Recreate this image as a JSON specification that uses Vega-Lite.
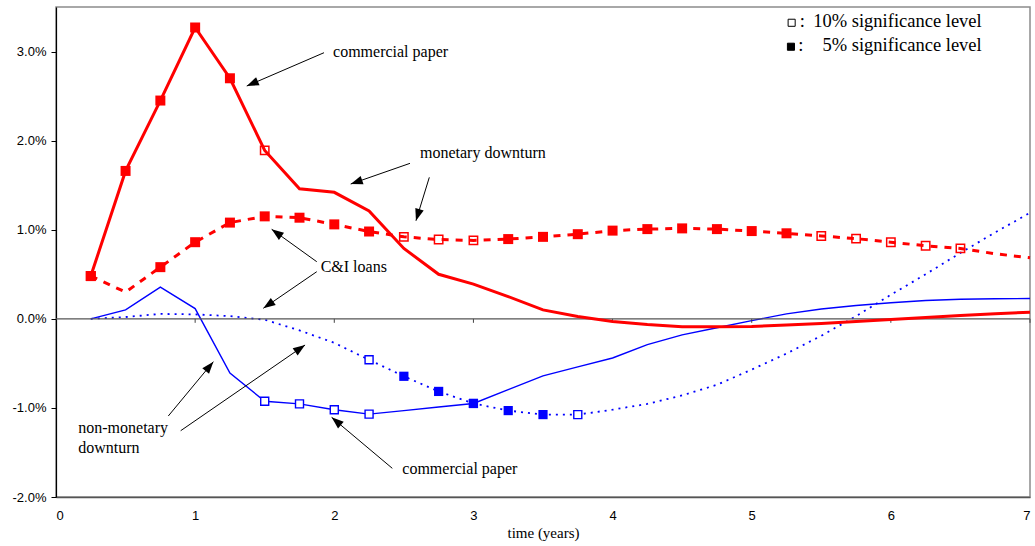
{
  "$schema": "https://vega.github.io/schema/vega-lite/v6.json",
  "width": 974,
  "height": 490,
  "autosize": "none",
  "padding": {"left": 56, "top": 7, "right": 5, "bottom": 49},
  "background": "white",
  "config": {
    "view": {"stroke": "#8c8c8c", "strokeWidth": 1.5},
    "font": "Liberation Sans"
  },
  "datasets": {
    "irf": [
      {"s": "cp_m", "x": 0.25, "y": 0.48, "sig": "5"},
      {"s": "cp_m", "x": 0.5, "y": 1.66, "sig": "5"},
      {"s": "cp_m", "x": 0.75, "y": 2.45, "sig": "5"},
      {"s": "cp_m", "x": 1.0, "y": 3.27, "sig": "5"},
      {"s": "cp_m", "x": 1.25, "y": 2.70, "sig": "5"},
      {"s": "cp_m", "x": 1.5, "y": 1.89, "sig": "10"},
      {"s": "cp_m", "x": 1.75, "y": 1.46, "sig": ""},
      {"s": "cp_m", "x": 2.0, "y": 1.42, "sig": ""},
      {"s": "cp_m", "x": 2.25, "y": 1.21, "sig": ""},
      {"s": "cp_m", "x": 2.5, "y": 0.79, "sig": ""},
      {"s": "cp_m", "x": 2.75, "y": 0.50, "sig": ""},
      {"s": "cp_m", "x": 3.0, "y": 0.39, "sig": ""},
      {"s": "cp_m", "x": 3.25, "y": 0.25, "sig": ""},
      {"s": "cp_m", "x": 3.5, "y": 0.10, "sig": ""},
      {"s": "cp_m", "x": 3.75, "y": 0.025, "sig": ""},
      {"s": "cp_m", "x": 4.0, "y": -0.03, "sig": ""},
      {"s": "cp_m", "x": 4.25, "y": -0.065, "sig": ""},
      {"s": "cp_m", "x": 4.5, "y": -0.088, "sig": ""},
      {"s": "cp_m", "x": 4.75, "y": -0.09, "sig": ""},
      {"s": "cp_m", "x": 5.0, "y": -0.085, "sig": ""},
      {"s": "cp_m", "x": 5.25, "y": -0.07, "sig": ""},
      {"s": "cp_m", "x": 5.5, "y": -0.052, "sig": ""},
      {"s": "cp_m", "x": 5.75, "y": -0.03, "sig": ""},
      {"s": "cp_m", "x": 6.0, "y": -0.008, "sig": ""},
      {"s": "cp_m", "x": 6.25, "y": 0.015, "sig": ""},
      {"s": "cp_m", "x": 6.5, "y": 0.037, "sig": ""},
      {"s": "cp_m", "x": 6.75, "y": 0.056, "sig": ""},
      {"s": "cp_m", "x": 7.0, "y": 0.075, "sig": ""},

      {"s": "ci_m", "x": 0.25, "y": 0.48, "sig": "5"},
      {"s": "ci_m", "x": 0.5, "y": 0.30, "sig": ""},
      {"s": "ci_m", "x": 0.75, "y": 0.58, "sig": "5"},
      {"s": "ci_m", "x": 1.0, "y": 0.86, "sig": "5"},
      {"s": "ci_m", "x": 1.25, "y": 1.08, "sig": "5"},
      {"s": "ci_m", "x": 1.5, "y": 1.15, "sig": "5"},
      {"s": "ci_m", "x": 1.75, "y": 1.135, "sig": "5"},
      {"s": "ci_m", "x": 2.0, "y": 1.06, "sig": "5"},
      {"s": "ci_m", "x": 2.25, "y": 0.98, "sig": "5"},
      {"s": "ci_m", "x": 2.5, "y": 0.92, "sig": "10"},
      {"s": "ci_m", "x": 2.75, "y": 0.89, "sig": "10"},
      {"s": "ci_m", "x": 3.0, "y": 0.88, "sig": "10"},
      {"s": "ci_m", "x": 3.25, "y": 0.895, "sig": "5"},
      {"s": "ci_m", "x": 3.5, "y": 0.92, "sig": "5"},
      {"s": "ci_m", "x": 3.75, "y": 0.95, "sig": "5"},
      {"s": "ci_m", "x": 4.0, "y": 0.99, "sig": "5"},
      {"s": "ci_m", "x": 4.25, "y": 1.007, "sig": "5"},
      {"s": "ci_m", "x": 4.5, "y": 1.015, "sig": "5"},
      {"s": "ci_m", "x": 4.75, "y": 1.007, "sig": "5"},
      {"s": "ci_m", "x": 5.0, "y": 0.985, "sig": "5"},
      {"s": "ci_m", "x": 5.25, "y": 0.96, "sig": "5"},
      {"s": "ci_m", "x": 5.5, "y": 0.93, "sig": "10"},
      {"s": "ci_m", "x": 5.75, "y": 0.90, "sig": "10"},
      {"s": "ci_m", "x": 6.0, "y": 0.86, "sig": "10"},
      {"s": "ci_m", "x": 6.25, "y": 0.82, "sig": "10"},
      {"s": "ci_m", "x": 6.5, "y": 0.79, "sig": "10"},
      {"s": "ci_m", "x": 6.75, "y": 0.73, "sig": ""},
      {"s": "ci_m", "x": 7.0, "y": 0.685, "sig": ""},

      {"s": "cp_n", "x": 0.25, "y": 0.0, "sig": ""},
      {"s": "cp_n", "x": 0.5, "y": 0.10, "sig": ""},
      {"s": "cp_n", "x": 0.75, "y": 0.355, "sig": ""},
      {"s": "cp_n", "x": 1.0, "y": 0.115, "sig": ""},
      {"s": "cp_n", "x": 1.25, "y": -0.61, "sig": ""},
      {"s": "cp_n", "x": 1.5, "y": -0.925, "sig": "10"},
      {"s": "cp_n", "x": 1.75, "y": -0.955, "sig": "10"},
      {"s": "cp_n", "x": 2.0, "y": -1.02, "sig": "10"},
      {"s": "cp_n", "x": 2.25, "y": -1.07, "sig": "10"},
      {"s": "cp_n", "x": 2.5, "y": -1.03, "sig": ""},
      {"s": "cp_n", "x": 2.75, "y": -0.99, "sig": ""},
      {"s": "cp_n", "x": 3.0, "y": -0.95, "sig": "5"},
      {"s": "cp_n", "x": 3.25, "y": -0.795, "sig": ""},
      {"s": "cp_n", "x": 3.5, "y": -0.64, "sig": ""},
      {"s": "cp_n", "x": 3.75, "y": -0.54, "sig": ""},
      {"s": "cp_n", "x": 4.0, "y": -0.44, "sig": ""},
      {"s": "cp_n", "x": 4.25, "y": -0.29, "sig": ""},
      {"s": "cp_n", "x": 4.5, "y": -0.18, "sig": ""},
      {"s": "cp_n", "x": 4.75, "y": -0.10, "sig": ""},
      {"s": "cp_n", "x": 5.0, "y": -0.02, "sig": ""},
      {"s": "cp_n", "x": 5.25, "y": 0.055, "sig": ""},
      {"s": "cp_n", "x": 5.5, "y": 0.11, "sig": ""},
      {"s": "cp_n", "x": 5.75, "y": 0.15, "sig": ""},
      {"s": "cp_n", "x": 6.0, "y": 0.18, "sig": ""},
      {"s": "cp_n", "x": 6.25, "y": 0.205, "sig": ""},
      {"s": "cp_n", "x": 6.5, "y": 0.22, "sig": ""},
      {"s": "cp_n", "x": 6.75, "y": 0.225, "sig": ""},
      {"s": "cp_n", "x": 7.0, "y": 0.228, "sig": ""},

      {"s": "ci_n", "x": 0.25, "y": 0.0, "sig": ""},
      {"s": "ci_n", "x": 0.5, "y": 0.02, "sig": ""},
      {"s": "ci_n", "x": 0.75, "y": 0.055, "sig": ""},
      {"s": "ci_n", "x": 1.0, "y": 0.05, "sig": ""},
      {"s": "ci_n", "x": 1.25, "y": 0.03, "sig": ""},
      {"s": "ci_n", "x": 1.5, "y": -0.01, "sig": ""},
      {"s": "ci_n", "x": 1.75, "y": -0.13, "sig": ""},
      {"s": "ci_n", "x": 2.0, "y": -0.27, "sig": ""},
      {"s": "ci_n", "x": 2.25, "y": -0.46, "sig": "10"},
      {"s": "ci_n", "x": 2.5, "y": -0.645, "sig": "5"},
      {"s": "ci_n", "x": 2.75, "y": -0.815, "sig": "5"},
      {"s": "ci_n", "x": 3.0, "y": -0.95, "sig": "5"},
      {"s": "ci_n", "x": 3.25, "y": -1.03, "sig": "5"},
      {"s": "ci_n", "x": 3.5, "y": -1.075, "sig": "5"},
      {"s": "ci_n", "x": 3.75, "y": -1.075, "sig": "10"},
      {"s": "ci_n", "x": 4.0, "y": -1.02, "sig": ""},
      {"s": "ci_n", "x": 4.25, "y": -0.955, "sig": ""},
      {"s": "ci_n", "x": 4.5, "y": -0.86, "sig": ""},
      {"s": "ci_n", "x": 4.75, "y": -0.74, "sig": ""},
      {"s": "ci_n", "x": 5.0, "y": -0.57, "sig": ""},
      {"s": "ci_n", "x": 5.25, "y": -0.39, "sig": ""},
      {"s": "ci_n", "x": 5.5, "y": -0.19, "sig": ""},
      {"s": "ci_n", "x": 5.75, "y": 0.03, "sig": ""},
      {"s": "ci_n", "x": 6.0, "y": 0.27, "sig": ""},
      {"s": "ci_n", "x": 6.25, "y": 0.50, "sig": ""},
      {"s": "ci_n", "x": 6.5, "y": 0.74, "sig": ""},
      {"s": "ci_n", "x": 6.75, "y": 0.97, "sig": ""},
      {"s": "ci_n", "x": 7.0, "y": 1.19, "sig": ""}
    ],
    "arrows": [
      {"x": 1.926, "y": 2.987, "x2": 1.371, "y2": 2.613},
      {"x": 2.544, "y": 1.745, "x2": 2.118, "y2": 1.513},
      {"x": 2.683, "y": 1.588, "x2": 2.587, "y2": 1.101},
      {"x": 1.874, "y": 0.641, "x2": 1.550, "y2": 1.005},
      {"x": 1.874, "y": 0.529, "x2": 1.490, "y2": 0.118},
      {"x": 0.807, "y": -1.091, "x2": 1.131, "y2": -0.481},
      {"x": 0.896, "y": -1.256, "x2": 1.790, "y2": -0.294},
      {"x": 2.417, "y": -1.678, "x2": 1.981, "y2": -1.106}
    ],
    "notes": [
      {"x": 1.991, "y": 2.942, "text": "commercial paper"},
      {"x": 2.616, "y": 1.802, "text": "monetary downturn"},
      {"x": 1.902, "y": 0.529, "text": "C&I loans"},
      {"x": 0.160, "y": -1.285, "text": "non-monetary"},
      {"x": 0.160, "y": -1.503, "text": "downturn"},
      {"x": 2.489, "y": -1.745, "text": "commercial paper"}
    ],
    "legendSym": [
      {"x": 5.287, "y": 3.323, "kind": "10"},
      {"x": 5.282, "y": 3.054, "kind": "5"}
    ],
    "legendColon": [
      {"x": 5.345, "y": 3.279, "text": ":"},
      {"x": 5.335, "y": 3.009, "text": ":"}
    ],
    "legendText": [
      {"x": 6.653, "y": 3.279, "text": "10% significance level"},
      {"x": 6.653, "y": 3.009, "text": "5% significance level"}
    ],
    "zeroTicks": [
      {"x": 1}, {"x": 2}, {"x": 3}, {"x": 4}, {"x": 5}, {"x": 6}, {"x": 7}
    ]
  },
  "layer": [
    {
      "data": {"name": "irf"},
      "transform": [{"filter": "datum.s == 'cp_n'"}],
      "mark": {"type": "line", "color": "#0000ff", "strokeWidth": 1.4},
      "encoding": {
        "x": {
          "field": "x", "type": "quantitative",
          "scale": {"domain": [0, 7], "nice": false, "zero": false},
          "axis": {
            "title": "time (years)",
            "values": [0, 1, 2, 3, 4, 5, 6, 7],
            "format": "d",
            "grid": false,
            "ticks": false,
            "domainColor": "#555555",
            "domainWidth": 1.5,
            "labelFont": "Liberation Sans",
            "labelFontSize": 13,
            "labelColor": "#000000",
            "labelPadding": 12,
            "titleFont": "Liberation Serif",
            "titleFontSize": 15,
            "titleFontWeight": "normal",
            "titleColor": "#000000",
            "titlePadding": 3
          }
        },
        "y": {
          "field": "y", "type": "quantitative",
          "scale": {"domain": [-2, 3.5], "nice": false, "zero": false},
          "axis": {
            "title": null,
            "values": [-2, -1, 0, 1, 2, 3],
            "labelExpr": "(datum.value < 0 ? '-' : '') + format(abs(datum.value), '.1f') + '%'",
            "grid": false,
            "domainColor": "#000000",
            "domainWidth": 1.2,
            "tickColor": "#000000",
            "tickSize": 5,
            "labelFont": "Liberation Sans",
            "labelFontSize": 13,
            "labelColor": "#000000",
            "labelPadding": 5
          }
        }
      }
    },
    {
      "data": {"name": "irf"},
      "transform": [{"filter": "datum.s == 'ci_n'"}],
      "mark": {"type": "line", "color": "#0000ff", "strokeWidth": 1.8, "strokeDash": [2, 5]},
      "encoding": {
        "x": {"field": "x", "type": "quantitative"},
        "y": {"field": "y", "type": "quantitative"}
      }
    },
    {
      "data": {"name": "zeroTicks"},
      "mark": {"type": "rule", "color": "#444444", "strokeWidth": 1},
      "encoding": {
        "x": {"field": "x", "type": "quantitative"},
        "y": {"datum": 0},
        "y2": {"datum": -0.045}
      }
    },
    {
      "data": {"values": [{"y": 0}]},
      "mark": {"type": "rule", "color": "#555555", "strokeWidth": 1.3},
      "encoding": {
        "y": {"field": "y", "type": "quantitative"}
      }
    },
    {
      "data": {"name": "irf"},
      "transform": [{"filter": "datum.s == 'ci_m'"}],
      "mark": {"type": "line", "color": "#ff0000", "strokeWidth": 3, "strokeDash": [7, 7]},
      "encoding": {
        "x": {"field": "x", "type": "quantitative"},
        "y": {"field": "y", "type": "quantitative"}
      }
    },
    {
      "data": {"name": "irf"},
      "transform": [{"filter": "datum.s == 'cp_m'"}],
      "mark": {"type": "line", "color": "#ff0000", "strokeWidth": 3},
      "encoding": {
        "x": {"field": "x", "type": "quantitative"},
        "y": {"field": "y", "type": "quantitative"}
      }
    },
    {
      "data": {"name": "irf"},
      "transform": [{"filter": "(datum.s == 'cp_n' || datum.s == 'ci_n') && datum.sig == '10'"}],
      "mark": {"type": "point", "shape": "square", "filled": false, "fill": "white", "color": "#0000ff", "strokeWidth": 1.4, "size": 64, "opacity": 1},
      "encoding": {
        "x": {"field": "x", "type": "quantitative"},
        "y": {"field": "y", "type": "quantitative"}
      }
    },
    {
      "data": {"name": "irf"},
      "transform": [{"filter": "(datum.s == 'cp_n' || datum.s == 'ci_n') && datum.sig == '5'"}],
      "mark": {"type": "point", "shape": "square", "filled": true, "color": "#0000ff", "size": 85, "opacity": 1},
      "encoding": {
        "x": {"field": "x", "type": "quantitative"},
        "y": {"field": "y", "type": "quantitative"}
      }
    },
    {
      "data": {"name": "irf"},
      "transform": [{"filter": "(datum.s == 'cp_m' || datum.s == 'ci_m') && datum.sig == '10'"}],
      "mark": {"type": "point", "shape": "square", "filled": false, "color": "#ff0000", "strokeWidth": 1.5, "size": 70, "opacity": 1},
      "encoding": {
        "x": {"field": "x", "type": "quantitative"},
        "y": {"field": "y", "type": "quantitative"}
      }
    },
    {
      "data": {"name": "irf"},
      "transform": [{"filter": "(datum.s == 'cp_m' || datum.s == 'ci_m') && datum.sig == '5'"}],
      "mark": {"type": "point", "shape": "square", "filled": true, "color": "#ff0000", "size": 100, "opacity": 1},
      "encoding": {
        "x": {"field": "x", "type": "quantitative"},
        "y": {"field": "y", "type": "quantitative"}
      }
    },
    {
      "data": {"name": "arrows"},
      "mark": {"type": "rule", "color": "#000000", "strokeWidth": 1},
      "encoding": {
        "x": {"field": "x", "type": "quantitative"},
        "y": {"field": "y", "type": "quantitative"},
        "x2": {"field": "x2"},
        "y2": {"field": "y2"}
      }
    },
    {
      "data": {"name": "arrows"},
      "transform": [
        {"calculate": "atan2((datum.x2 - datum.x) * 139.14, (datum.y2 - datum.y) * 89.09) * 180 / PI", "as": "a"}
      ],
      "mark": {"type": "point", "shape": "M0,0L-0.8,2.2L0.8,2.2Z", "filled": true, "color": "#000000", "size": 120, "opacity": 1},
      "encoding": {
        "x": {"field": "x2", "type": "quantitative"},
        "y": {"field": "y2", "type": "quantitative"},
        "angle": {"field": "a", "type": "quantitative", "scale": null}
      }
    },
    {
      "data": {"name": "notes"},
      "mark": {"type": "text", "align": "left", "baseline": "alphabetic", "font": "Liberation Serif", "fontSize": 16, "color": "#000000"},
      "encoding": {
        "x": {"field": "x", "type": "quantitative"},
        "y": {"field": "y", "type": "quantitative"},
        "text": {"field": "text"}
      }
    },
    {
      "data": {"name": "legendSym"},
      "mark": {"type": "point", "shape": "square", "stroke": "#000000", "strokeWidth": 1, "size": 50, "opacity": 1},
      "encoding": {
        "x": {"field": "x", "type": "quantitative"},
        "y": {"field": "y", "type": "quantitative"},
        "fill": {"field": "kind", "type": "nominal", "scale": {"domain": ["10", "5"], "range": ["#ffffff", "#000000"]}, "legend": null}
      }
    },
    {
      "data": {"name": "legendColon"},
      "mark": {"type": "text", "align": "left", "baseline": "alphabetic", "font": "Liberation Serif", "fontSize": 18.5, "color": "#000000"},
      "encoding": {
        "x": {"field": "x", "type": "quantitative"},
        "y": {"field": "y", "type": "quantitative"},
        "text": {"field": "text"}
      }
    },
    {
      "data": {"name": "legendText"},
      "mark": {"type": "text", "align": "right", "baseline": "alphabetic", "font": "Liberation Serif", "fontSize": 18.5, "color": "#000000"},
      "encoding": {
        "x": {"field": "x", "type": "quantitative"},
        "y": {"field": "y", "type": "quantitative"},
        "text": {"field": "text"}
      }
    }
  ]
}
